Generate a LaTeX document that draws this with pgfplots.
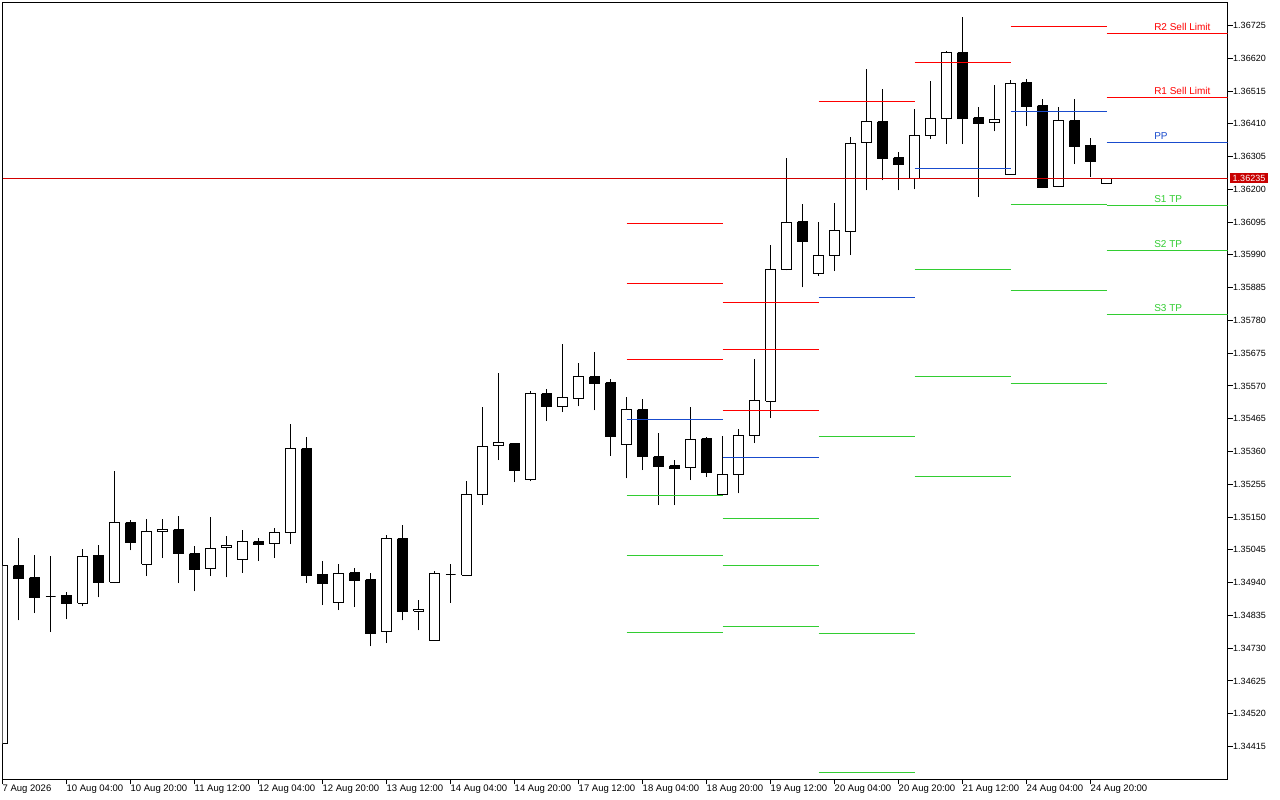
\documentclass[border=0pt]{standalone}
\usepackage{pgfplots}
\pgfplotsset{compat=1.18}
\usepackage{fontspec}
\setmainfont{Liberation Sans}
\definecolor{pivred}{RGB}{255,0,0}
\definecolor{pivblue}{RGB}{25,75,205}
\definecolor{pivgreen}{RGB}{50,205,50}
\definecolor{priceline}{RGB}{210,0,0}
\definecolor{pricebox}{RGB}{200,0,0}
% x, open, high, low, close, body fill
\newcommand{\candle}[6]{%
  \pgfmathsetmacro\xl{#1-0.3125}\pgfmathsetmacro\xr{#1+0.3125}%
  \addplot[black, line width=1pt] coordinates {(#1,#4) (#1,#3)};
  \edef\temp{\noexpand\addplot[draw=black, fill=#6, line width=1pt, line join=miter] coordinates {(\xl,#2) (\xr,#2) (\xr,#5) (\xl,#5) (\xl,#2)};}%
  \temp}
\newcommand{\bull}[5]{\candle{#1}{#2}{#3}{#4}{#5}{white}}
\newcommand{\bear}[5]{\candle{#1}{#2}{#3}{#4}{#5}{black}}
\newcommand{\seg}[4]{\addplot[#1, line width=1pt] coordinates {(#2,#4) (#3,#4)};}
\begin{document}
\begin{tikzpicture}
\useasboundingbox (0,0) rectangle (1280pt,800pt);
\fill[white] (0,0) rectangle (1280pt,800pt);
\begin{axis}[
  at={(2.5pt,20.5pt)}, anchor=south west,
  scale only axis, width=1225pt, height=777pt,
  xmin=0, xmax=76.5625, ymin=1.343091, ymax=1.367987,
  axis line style={black, line width=1pt},
  tick align=outside, major tick length=5pt,
  tick style={black, line width=1pt},
  xtick pos=left, ytick pos=right, yticklabel pos=right,
  xtick={0,4,...,68},
  xticklabels={7 Aug 2026, 10 Aug 04:00, 10 Aug 20:00, 11 Aug 12:00, 12 Aug 04:00, 12 Aug 20:00, 13 Aug 12:00, 14 Aug 04:00, 14 Aug 20:00, 17 Aug 12:00, 18 Aug 04:00, 18 Aug 20:00, 19 Aug 12:00, 20 Aug 04:00, 20 Aug 20:00, 21 Aug 12:00, 24 Aug 04:00, 24 Aug 20:00},
  ytick={1.34415,1.34520,1.34625,1.34730,1.34835,1.34940,1.35045,1.35150,1.35255,1.35360,1.35465,1.35570,1.35675,1.35780,1.35885,1.35990,1.36095,1.36200,1.36305,1.36410,1.36515,1.36620,1.36725},
  yticklabels={1.34415,1.34520,1.34625,1.34730,1.34835,1.34940,1.35045,1.35150,1.35255,1.35360,1.35465,1.35570,1.35675,1.35780,1.35885,1.35990,1.36095,1.36200,1.36305,1.36410,1.36515,1.36620,1.36725},
  xticklabel style={anchor=north west, inner sep=0pt, xshift=0pt, font=\fontsize{9.5}{10}\selectfont},
  yticklabel style={anchor=west, inner sep=0.5pt, font=\fontsize{9}{10}\selectfont},
  clip mode=individual,
]
\bull{0}{1.34423}{1.35004}{1.34418}{1.34994}
\bear{1}{1.34994}{1.35084}{1.34819}{1.34954}
\bear{2}{1.34956}{1.35030}{1.34842}{1.34893}
\bull{3}{1.34894}{1.35024}{1.34781}{1.34894}
\bear{4}{1.34899}{1.34911}{1.34822}{1.34874}
\bull{5}{1.34874}{1.35049}{1.34864}{1.35023}
\bear{6}{1.35027}{1.35059}{1.34893}{1.34940}
\bull{7}{1.34941}{1.35299}{1.34938}{1.35132}
\bear{8}{1.35132}{1.35142}{1.35043}{1.35069}
\bull{9}{1.34999}{1.35145}{1.34961}{1.35103}
\bull{10}{1.35103}{1.35145}{1.35018}{1.35110}
\bear{11}{1.35110}{1.35152}{1.34938}{1.35034}
\bear{12}{1.35033}{1.35056}{1.34912}{1.34983}
\bull{13}{1.34984}{1.35149}{1.34961}{1.35049}
\bull{14}{1.35051}{1.35088}{1.34957}{1.35059}
\bull{15}{1.35013}{1.35107}{1.34972}{1.35071}
\bear{16}{1.35071}{1.35084}{1.35009}{1.35063}
\bull{17}{1.35064}{1.35116}{1.35018}{1.35100}
\bull{18}{1.35100}{1.35447}{1.35063}{1.35369}
\bear{19}{1.35369}{1.35405}{1.34938}{1.34964}
\bear{20}{1.34966}{1.35008}{1.34868}{1.34938}
\bull{21}{1.34875}{1.35001}{1.34852}{1.34968}
\bear{22}{1.34971}{1.34988}{1.34861}{1.34948}
\bear{23}{1.34949}{1.34972}{1.34736}{1.34778}
\bull{24}{1.34782}{1.35091}{1.34746}{1.35080}
\bear{25}{1.35081}{1.35123}{1.34819}{1.34848}
\bull{26}{1.34848}{1.34883}{1.34787}{1.34855}
\bull{27}{1.34753}{1.34976}{1.34753}{1.34968}
\bull{28}{1.34967}{1.34998}{1.34876}{1.34967}
\bull{29}{1.34964}{1.35264}{1.34962}{1.35221}
\bull{30}{1.35221}{1.35504}{1.35189}{1.35375}
\bull{31}{1.35378}{1.35610}{1.35332}{1.35388}
\bear{32}{1.35385}{1.35388}{1.35262}{1.35300}
\bull{33}{1.35269}{1.35554}{1.35264}{1.35545}
\bear{34}{1.35545}{1.35561}{1.35457}{1.35505}
\bull{35}{1.35503}{1.35705}{1.35486}{1.35532}
\bull{36}{1.35529}{1.35644}{1.35505}{1.35599}
\bear{37}{1.35599}{1.35679}{1.35492}{1.35579}
\bear{38}{1.35580}{1.35593}{1.35347}{1.35409}
\bull{39}{1.35381}{1.35536}{1.35274}{1.35494}
\bear{40}{1.35494}{1.35529}{1.35300}{1.35345}
\bear{41}{1.35343}{1.35418}{1.35188}{1.35313}
\bear{42}{1.35314}{1.35334}{1.35188}{1.35307}
\bull{43}{1.35308}{1.35504}{1.35268}{1.35397}
\bear{44}{1.35401}{1.35407}{1.35278}{1.35294}
\bull{45}{1.35221}{1.35411}{1.35220}{1.35285}
\bull{46}{1.35285}{1.35431}{1.35226}{1.35410}
\bull{47}{1.35410}{1.35655}{1.35387}{1.35523}
\bull{48}{1.35521}{1.36023}{1.35467}{1.35942}
\bull{49}{1.35942}{1.36299}{1.35940}{1.36093}
\bear{50}{1.36096}{1.36152}{1.35886}{1.36034}
\bull{51}{1.35929}{1.36094}{1.35923}{1.35987}
\bull{52}{1.35987}{1.36157}{1.35938}{1.36067}
\bull{53}{1.36064}{1.36368}{1.35989}{1.36346}
\bull{54}{1.36349}{1.36587}{1.36197}{1.36416}
\bear{55}{1.36416}{1.36523}{1.36229}{1.36298}
\bear{56}{1.36301}{1.36321}{1.36197}{1.36281}
\bull{57}{1.36234}{1.36458}{1.36200}{1.36372}
\bull{58}{1.36372}{1.36546}{1.36361}{1.36426}
\bull{59}{1.36426}{1.36644}{1.36345}{1.36638}
\bear{60}{1.36638}{1.36751}{1.36345}{1.36426}
\bear{61}{1.36429}{1.36465}{1.36175}{1.36412}
\bull{62}{1.36413}{1.36533}{1.36386}{1.36423}
\bull{63}{1.36247}{1.36551}{1.36246}{1.36538}
\bear{64}{1.36542}{1.36555}{1.36402}{1.36466}
\bear{65}{1.36468}{1.36488}{1.36204}{1.36207}
\bull{66}{1.36208}{1.36465}{1.36207}{1.36420}
\bear{67}{1.36420}{1.36491}{1.36281}{1.36338}
\bear{68}{1.36341}{1.36363}{1.36239}{1.36290}
\bull{69}{1.36218}{1.36235}{1.36218}{1.36235}
% pivot levels, 18 Aug
\seg{pivred}{39}{45}{1.36091}
\seg{pivred}{39}{45}{1.35897}
\seg{pivred}{39}{45}{1.35655}
\seg{pivblue}{39}{45}{1.35463}
\seg{pivgreen}{39}{45}{1.35219}
\seg{pivgreen}{39}{45}{1.35027}
\seg{pivgreen}{39}{45}{1.34780}
% 19 Aug
\seg{pivred}{45}{51}{1.35837}
\seg{pivred}{45}{51}{1.35687}
\seg{pivred}{45}{51}{1.35491}
\seg{pivblue}{45}{51}{1.35341}
\seg{pivgreen}{45}{51}{1.35145}
\seg{pivgreen}{45}{51}{1.34995}
\seg{pivgreen}{45}{51}{1.34799}
% 20 Aug
\seg{pivred}{51}{57}{1.36481}
\seg{pivblue}{51}{57}{1.35853}
\seg{pivgreen}{51}{57}{1.35408}
\seg{pivgreen}{51}{57}{1.34777}
\seg{pivgreen}{51}{57}{1.34331}
% 21 Aug
\seg{pivred}{57}{63}{1.36606}
\seg{pivblue}{57}{63}{1.36267}
\seg{pivgreen}{57}{63}{1.35943}
\seg{pivgreen}{57}{63}{1.35600}
\seg{pivgreen}{57}{63}{1.35280}
% 24 Aug
\seg{pivred}{63}{69}{1.36722}
\seg{pivblue}{63}{69}{1.36449}
\seg{pivgreen}{63}{69}{1.36152}
\seg{pivgreen}{63}{69}{1.35876}
\seg{pivgreen}{63}{69}{1.35578}
% 25 Aug
\seg{pivred}{69}{76.6}{1.36699}
\seg{pivred}{69}{76.6}{1.36494}
\seg{pivblue}{69}{76.6}{1.36350}
\seg{pivgreen}{69}{76.6}{1.36148}
\seg{pivgreen}{69}{76.6}{1.36004}
\seg{pivgreen}{69}{76.6}{1.35799}
% current price line
\seg{priceline}{0}{76.6}{1.36235}
\begin{scope}[every node/.style={anchor=base west, inner sep=0pt, yshift=3pt, font=\fontsize{10}{12}\selectfont}]
\node[text=pivred] at (axis cs:71.97,1.36699) {R2 Sell Limit};
\node[text=pivred] at (axis cs:71.97,1.36494) {R1 Sell Limit};
\node[text=pivblue] at (axis cs:71.97,1.36350) {PP};
\node[text=pivgreen] at (axis cs:71.97,1.36148) {S1 TP};
\node[text=pivgreen] at (axis cs:71.97,1.36004) {S2 TP};
\node[text=pivgreen] at (axis cs:71.97,1.35799) {S3 TP};
\end{scope}
\node[anchor=west, fill=pricebox, text=white, inner xsep=3pt, inner ysep=1.8pt, xshift=2pt, font=\fontsize{9}{10}\selectfont] at (axis cs:76.5625,1.36235) {1.36235};
\end{axis}
\end{tikzpicture}
\end{document}
